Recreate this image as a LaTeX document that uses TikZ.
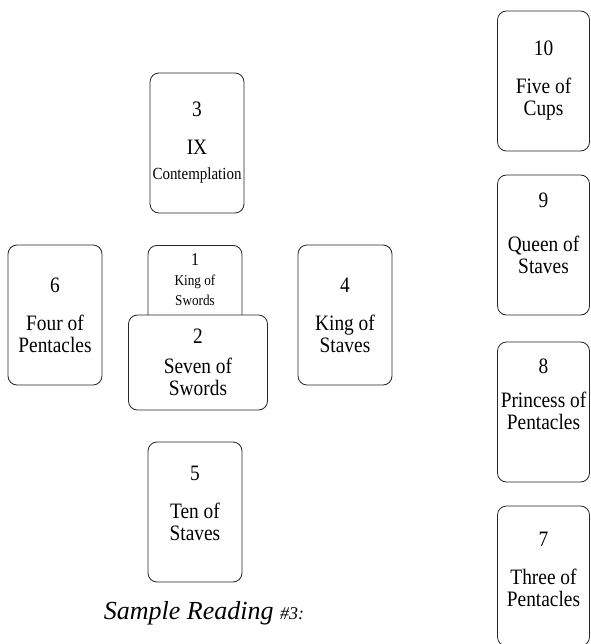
\documentclass[tikz,border=0pt]{standalone}
\usepackage{fontspec}
\setmainfont[FakeStretch=0.88]{Liberation Serif}
\newfontfamily\capfont{Liberation Serif}
\usetikzlibrary{positioning}

\begin{document}
\begin{tikzpicture}[x=1pt, y=-1pt,
    card/.style={draw=black!85, line width=0.8pt, rounded corners=9pt, fill=white,
      minimum width=94pt, minimum height=140pt, inner sep=0pt, align=center,
      font=\fontsize{22}{22}\selectfont},
    crossed/.style={card, minimum width=139pt, minimum height=95pt},
    staff/.style={card, minimum width=92pt}]
    \useasboundingbox (0,0) rectangle (590,644);

    % the cross
    \node[card] (c3) at (197,143) {3\\[16pt]IX\\[3pt]{\fontsize{17}{18}\selectfont Contemplation}};
    \node[card, anchor=north] (c1) at (195,245) {};
    \node[below=5pt of c1.north, align=center, font=\fontsize{15}{20}\selectfont] (c1t)
      {{\fontsize{18}{18}\selectfont 1}\\King of\\Swords};
    \node[crossed] (c2) at (198,362.5) {2\\[8pt]Seven of\\Swords};
    \node[card] (c6) at (55,315) {6\\[16pt]Four of\\Pentacles};
    \node[card] (c4) at (345,315) {4\\[16pt]King of\\Staves};
    \node[card, text depth=18pt] (c5) at (195,512) {5\\[16pt]Ten of\\Staves};

    % the staff
    \node[staff] (c10) at (543.5,81) {10\\[16pt]Five of\\Cups};
    \node[staff, text depth=24pt] (c9) at (543.5,245) {9\\[22pt]Queen of\\Staves};
    \node[staff, text depth=36pt] (c8) at (543.5,412) {8\\[12pt]Princess of\\Pentacles};
    \node[staff, text depth=14pt] (c7) at (543.5,576) {7\\[16pt]Three of\\Pentacles};

    \node (caption) at (204,613)
      {\capfont\itshape{\fontsize{26}{28}\selectfont Sample Reading\ }{\fontsize{18}{20}\selectfont \#3:}};
\end{tikzpicture}
\end{document}
